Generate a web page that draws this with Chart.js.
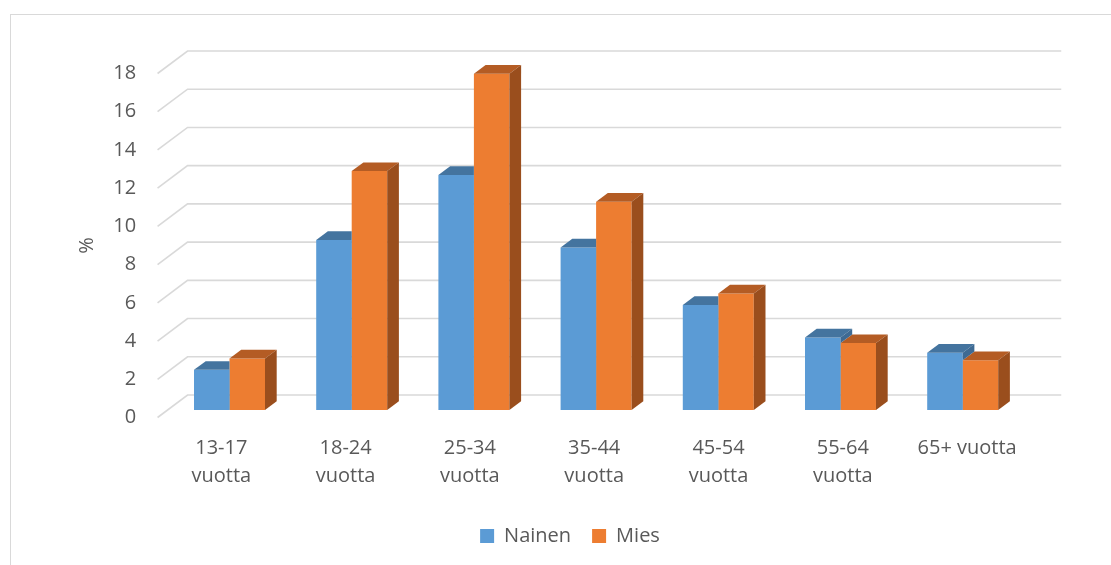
<!DOCTYPE html>
<html>
<head>
<meta charset="utf-8">
<title>Ikäryhmät</title>
<script src="https://cdn.jsdelivr.net/npm/chart.js@4"></script>
<style>
  html, body { margin: 0; padding: 0; background: #fff; }
  canvas { display: block; }
</style>
</head>
<body>
<canvas id="chart" width="1111" height="565"></canvas>
<script>
// Data
const categories = [
    ['13-17', 'vuotta'],
    ['18-24', 'vuotta'],
    ['25-34', 'vuotta'],
    ['35-44', 'vuotta'],
    ['45-54', 'vuotta'],
    ['55-64', 'vuotta'],
    '65+ vuotta'
];
const nainen = [2.1, 8.9, 12.3, 8.5, 5.5, 3.8, 3.0];
const mies = [2.7, 12.5, 17.6, 10.9, 6.1, 3.5, 2.6];
const yMin = 0;
const yMax = 18;
const yStep = 2;

// ============================================
// Look of the 3D bars
// ============================================
const FONT = "'Open Sans', 'Liberation Sans', sans-serif";
const TEXT = '#595959';
const GRID = '#d9d9d9';
const shades = [
    { front: '#5b9bd5', top: '#44749f', side: '#3e6a93' },
    { front: '#ed7d31', top: '#b45c24', side: '#9a4e1d' }
];
const wallDX = 30, wallDY = 22.5;        // front plane -> back wall
const barDX = 11.9, barDY = 8.7;          // bar depth
const barShiftX = 11.94, barShiftY = -7.5, barScaleX = 0.9831; // bar plane sits behind the front

// outline of one bar seen in 3D (front + top + side)
function silhouette(ctx, bar) {
    const l = bar.x - bar.width / 2, r = bar.x + bar.width / 2;
    ctx.moveTo(l, bar.base);
    ctx.lineTo(l, bar.y);
    ctx.lineTo(l + barDX, bar.y - barDY);
    ctx.lineTo(r + barDX, bar.y - barDY);
    ctx.lineTo(r + barDX, bar.base - barDY);
    ctx.lineTo(r, bar.base);
    ctx.closePath();
}

const threeD = {
    id: 'threeD',
    beforeDraw(chart) {
        const ctx = chart.ctx;
        ctx.save();
        ctx.fillStyle = '#fff';
        ctx.fillRect(0, 0, chart.width, chart.height);
        ctx.strokeStyle = GRID;
        ctx.lineWidth = 1;
        ctx.strokeRect(10.5, 14.5, chart.width + 50, chart.height + 50);
        ctx.restore();
    },
    beforeDatasetsDraw(chart) {
        const ctx = chart.ctx;
        const area = chart.chartArea;
        const y = chart.scales.y;
        ctx.save();
        ctx.strokeStyle = GRID;
        ctx.lineWidth = 1.6;
        for (let v = yMin; v <= yMax; v += yStep) {
            const py = y.getPixelForValue(v);
            ctx.beginPath();
            ctx.moveTo(area.left - 1.6, py);
            ctx.lineTo(area.left - 1.6 + wallDX, py - wallDY);
            ctx.lineTo(area.right + 32, py - wallDY);
            ctx.stroke();
        }
        ctx.restore();
        ctx.save();
        ctx.translate(barShiftX, barShiftY);
        ctx.scale(barScaleX, 1);
    },
    afterDatasetDraw(chart, args) {
        const ctx = chart.ctx;
        const c = shades[args.index];
        ctx.save();
        if (args.index === 0) {
            // keep the blue faces behind the orange bars
            ctx.beginPath();
            ctx.rect(-100, -100, chart.width + 200, chart.height + 200);
            chart.getDatasetMeta(1).data.forEach(bar => silhouette(ctx, bar));
            ctx.clip('evenodd');
        }
        args.meta.data.forEach(bar => {
            const l = bar.x - bar.width / 2;
            const r = bar.x + bar.width / 2;
            const t = bar.y;
            const b = bar.base;
            ctx.fillStyle = c.top;
            ctx.beginPath();
            ctx.moveTo(l, t);
            ctx.lineTo(l + barDX, t - barDY);
            ctx.lineTo(r + barDX, t - barDY);
            ctx.lineTo(r, t);
            ctx.closePath();
            ctx.fill();
            ctx.fillStyle = c.side;
            ctx.beginPath();
            ctx.moveTo(r, t);
            ctx.lineTo(r + barDX, t - barDY);
            ctx.lineTo(r + barDX, b - barDY);
            ctx.lineTo(r, b);
            ctx.closePath();
            ctx.fill();
        });
        ctx.restore();
    },
    afterDatasetsDraw(chart) {
        chart.ctx.restore();
    }
};

new Chart(document.getElementById('chart'), {
    type: 'bar',
    data: {
        labels: categories,
        datasets: [{
            label: 'Nainen',
            data: nainen,
            backgroundColor: shades[0].front,
            borderWidth: 0,
            clip: false
        }, {
            label: 'Mies',
            data: mies,
            backgroundColor: shades[1].front,
            borderWidth: 0,
            clip: false
        }]
    },
    options: {
        responsive: false,
        animation: false,
        layout: {
            padding: { left: 75, right: 46, top: 73.5, bottom: 9 }
        },
        datasets: {
            bar: { categoryPercentage: 0.581, barPercentage: 1.0 }
        },
        scales: {
            x: {
                grid: { display: false, drawTicks: false },
                border: { display: false },
                ticks: {
                    color: TEXT,
                    font: { family: FONT, size: 20, lineHeight: 1.4 },
                    padding: 16.5,
                    maxRotation: 0,
                    autoSkip: false
                },
                afterFit(s) {
                    s.height = 87.5;
                    s.paddingLeft = 0;
                    s.paddingRight = 0;
                }
            },
            y: {
                min: yMin,
                max: yMax,
                grid: { display: false, drawTicks: false },
                border: { display: false },
                ticks: {
                    stepSize: yStep,
                    color: TEXT,
                    font: { family: FONT, size: 20 },
                    padding: 23
                },
                title: {
                    display: true,
                    text: '%',
                    color: TEXT,
                    font: { family: FONT, size: 20 },
                    padding: 0
                },
                afterFit(s) {
                    s.width = 84.15;
                    s.paddingTop = 0;
                    s.paddingBottom = 0;
                }
            },
            // empty right axis, only keeps the plot narrower than the legend row
            y2: {
                position: 'right',
                display: true,
                grid: { display: false, drawTicks: false },
                border: { display: false },
                ticks: { display: false },
                afterFit(s) {
                    s.width = 35.75;
                    s.paddingTop = 0;
                    s.paddingBottom = 0;
                }
            }
        },
        plugins: {
            legend: {
                position: 'bottom',
                labels: {
                    boxWidth: 14,
                    boxHeight: 14,
                    padding: 21,
                    color: TEXT,
                    font: { family: FONT, size: 20 }
                }
            },
            tooltip: { enabled: false }
        }
    },
    plugins: [threeD]
});
</script>
</body>
</html>
